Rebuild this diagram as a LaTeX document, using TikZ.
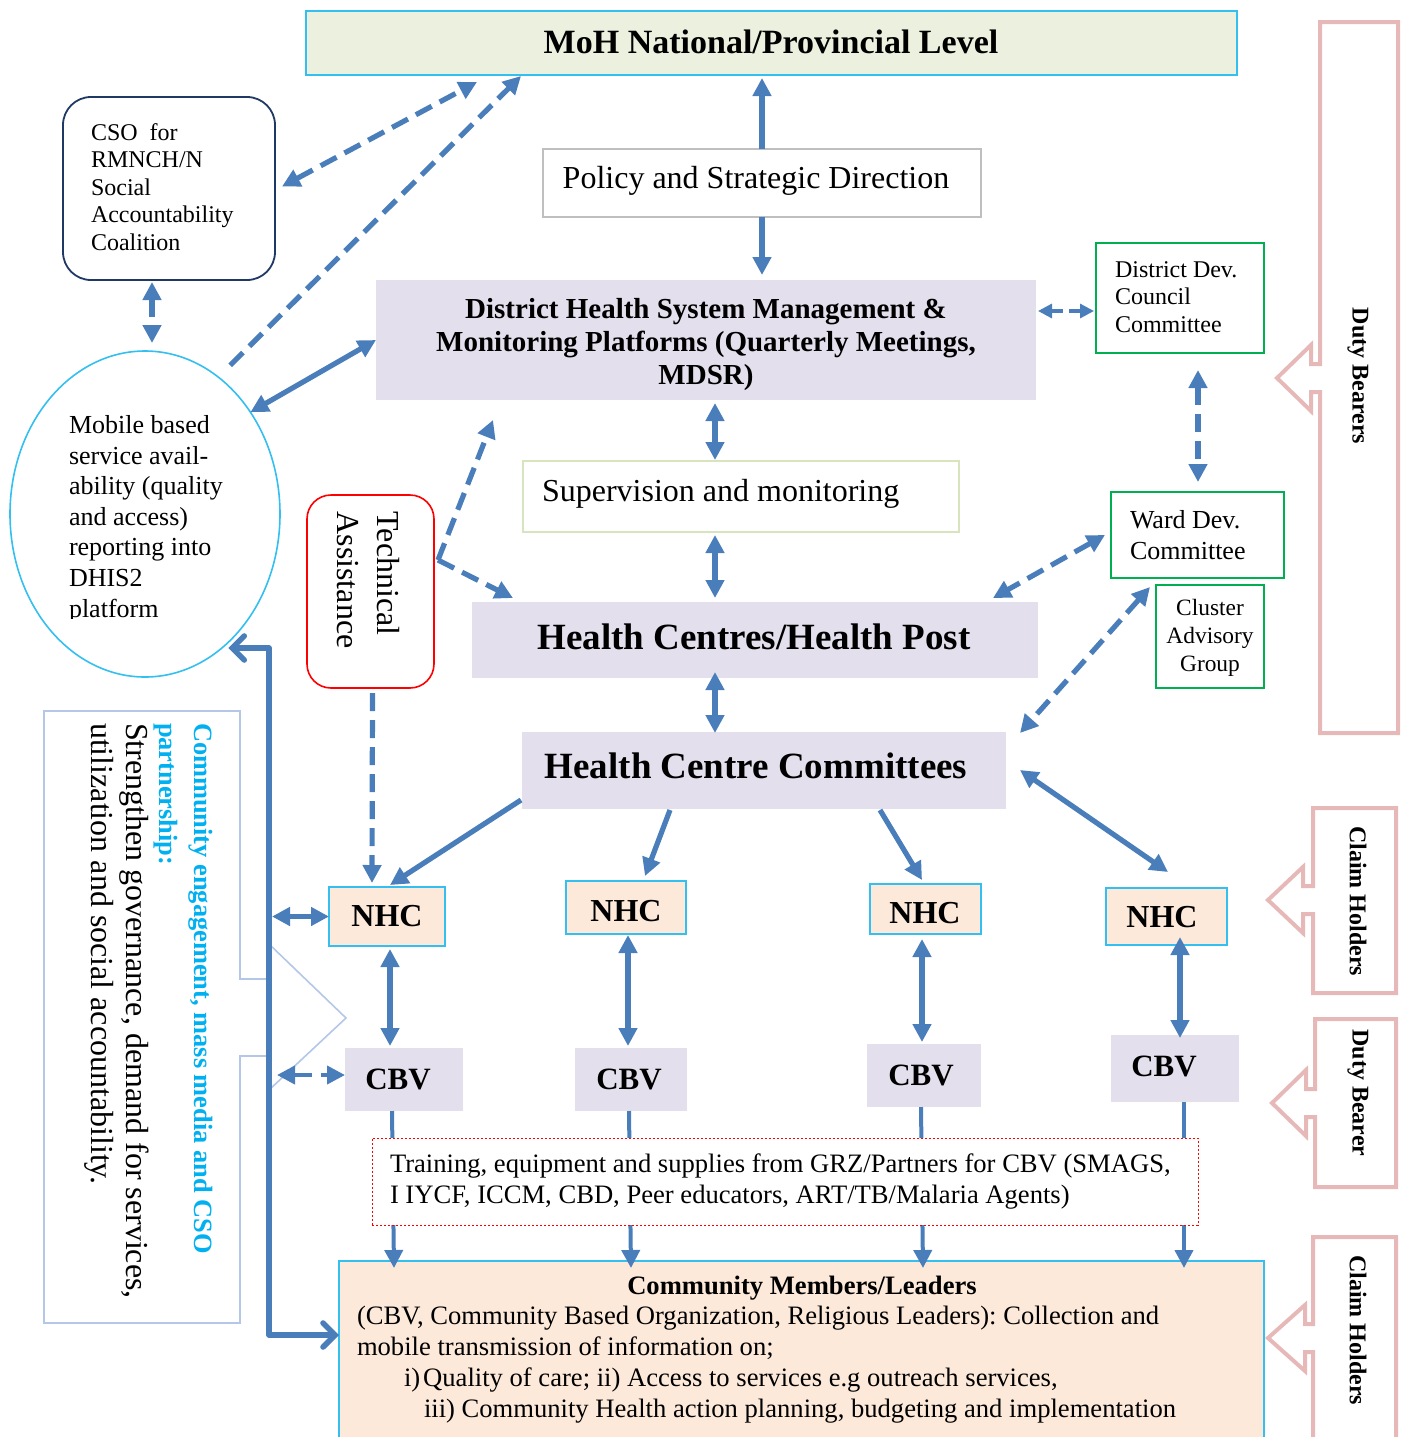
\documentclass[tikz,border=0pt]{standalone}
\usepackage{fontspec}
\setmainfont{Liberation Serif}
\usetikzlibrary{arrows.meta,fit,calc,shapes.geometric}
\definecolor{ablue}{HTML}{4A7EBB}
\definecolor{mohfill}{HTML}{EBF1DE}
\definecolor{cyanb}{HTML}{33BFF0}
\definecolor{lav}{HTML}{E4DFEC}
\definecolor{peach}{HTML}{FCE9DA}
\definecolor{gborder}{HTML}{00B050}
\definecolor{pinkc}{HTML}{E6B9B8}
\definecolor{callb}{HTML}{B4C7E7}
\definecolor{navyb}{HTML}{1F3864}
\definecolor{ceng}{HTML}{00B0F0}
\definecolor{supb}{HTML}{D7E4BD}
\definecolor{polb}{HTML}{BFBFBF}
\newcommand\fsz[2]{\fontsize{#1}{#2}\selectfont}
\frenchspacing
\begin{document}
\frenchspacing
\begin{tikzpicture}[x=0.5pt,y=-0.5pt,
  every node/.style={inner sep=0pt,outer sep=0pt},
  bx/.style={inner sep=0pt,line width=0.8pt},
  lavbox/.style={bx,fill=lav},
  nhcbox/.style={bx,fill=peach,draw=cyanb},
  nhctxt/.style={font=\fsz{16}{18}\bfseries},
  cbvtxt/.style={font=\fsz{15.5}{18}\bfseries},
  grbox/.style={bx,draw=gborder},
  ln/.style={draw=ablue,line width=2.6pt},
  dln/.style={ln,dash pattern=on 9pt off 4.5pt},
  tip/.style={-{Triangle[length=9pt,width=9pt]}},
  tips/.style={{Triangle[length=9pt,width=9pt]}-{Triangle[length=9pt,width=9pt]}},
  stips/.style={{Triangle[length=7pt,width=7pt]}-{Triangle[length=7pt,width=7pt]}},
  side/.style={draw=pinkc,line width=2pt,line join=miter},
  sidetxt/.style={rotate=-90,font=\fsz{12}{14}\bfseries},
  rottxt/.style={rotate=-90,anchor=north west,align=left}
]
\useasboundingbox (0,0) rectangle (1403,1437);
\clip (0,0) rectangle (1403,1437);

% left callout box
\draw[draw=callb,line width=0.8pt] (44,711) -- (240,711) -- (240,979) -- (269,979) -- (269,944) -- (346,1018) -- (269,1090) -- (269,1056) -- (240,1056) -- (240,1323) -- (44,1323) -- cycle;
\node[rottxt,font=\fsz{13.2}{17.5}\bfseries,text=ceng] (cengtxt) at (213,723) {Community engagement, mass media and CSO\\partnership:};
\node[rottxt,font=\fsz{16}{17.5}] (strgtxt) at (149,723) {Strengthen governance, demand for services,\\utilization and social accountability.};

% right side callouts
\draw[side] (1320,22) -- (1398,22) -- (1398,733) -- (1320,733) -- (1320,392) -- (1311,392) -- (1311,411) -- (1277,378) -- (1311,345) -- (1311,364) -- (1320,364) -- cycle;
\draw[side] (1313,808) -- (1396,808) -- (1396,993) -- (1313,993) -- (1313,914) -- (1303,914) -- (1303,933) -- (1268,900) -- (1303,867) -- (1303,886) -- (1313,886) -- cycle;
\draw[side] (1315,1019) -- (1396,1019) -- (1396,1187) -- (1315,1187) -- (1315,1117) -- (1306,1117) -- (1306,1136) -- (1272,1103) -- (1306,1070) -- (1306,1089) -- (1315,1089) -- cycle;
\draw[side] (1313,1237) -- (1396,1237) -- (1396,1460) -- (1313,1460) -- (1313,1352) -- (1305,1352) -- (1305,1371) -- (1268,1338) -- (1305,1305) -- (1305,1324) -- (1313,1324) -- cycle;
\node[sidetxt] (sdb1) at (1358,376) {Duty Bearers};
\node[sidetxt] (sch1) at (1358,901) {Claim Holders};
\node[sidetxt] (sdb2) at (1358,1093) {Duty Bearer};
\node[sidetxt] (sch2) at (1358,1330) {Claim Holders};

% main boxes
\node[bx,fill=mohfill,draw=cyanb,fit={(306,11) (1237,75)}] (moh) {};
\node[font=\fsz{17}{20}\bfseries] (mohtxt) at (771,42) {MoH National/Provincial Level};
\node[bx,fill=white,draw=polb,fit={(543,149) (981,217)}] (policy) {};
\node[font=\fsz{16}{19}] (poltxt) at (756,181) {Policy and Strategic Direction};
\node[lavbox,fit={(376,280) (1036,400)}] (district) {};
\node[align=center,font=\fsz{14.5}{16.5}\bfseries] (disttxt) at (706,345) {District Health System Management \&\\Monitoring Platforms (Quarterly Meetings,\\MDSR)};
\node[bx,fill=white,draw=supb,fit={(523,461) (959,532)}] (sup) {};
\node[anchor=west,font=\fsz{16}{19}] (suptxt) at (542,494) {Supervision and monitoring};
\node[lavbox,fit={(472,602) (1038,678)}] (hc) {};
\node[font=\fsz{18.5}{21}\bfseries] (hctxt) at (754,637) {Health Centres/Health Post};
\node[lavbox,fit={(522,732) (1006,809)}] (hcc) {};
\node[font=\fsz{18.5}{21}\bfseries] (hcctxt) at (756,766) {Health Centre Committees};

\node[bx,draw=navyb,line width=0.9pt,rounded corners=14pt,fit={(63,97) (275,280)}] (cso) {};
\node[anchor=west,align=left,font=\fsz{12}{13.8}] (csotxt) at (91,187) {CSO\ \ for\\RMNCH/N\\Social\\Accountability\\Coalition};

\node[draw=cyanb,line width=0.8pt,ellipse,minimum width=135pt,minimum height=163pt] (ell) at (145,514) {};
\begin{scope}
\clip (0,330) rectangle (300,618);
\node[anchor=west,align=left,font=\fsz{13}{15.3}] (elltxt) at (69,519) {Mobile based\\service avail-\\ability (quality\\and access)\\reporting into\\DHIS2\\platform};
\end{scope}

\node[bx,draw=red,rounded corners=12pt,fit={(307,495) (434,688)}] (ta) {};
\node[rotate=-90,align=left,font=\fsz{16}{20}] (tatxt) at (368,580) {Technical\\Assistance};

\node[grbox,fit={(1096,243) (1264,353)}] (ddcc) {};
\node[anchor=west,align=left,font=\fsz{12}{13.8}] (ddcctxt) at (1115,297) {District Dev.\\Council\\Committee};
\node[grbox,fit={(1111,492) (1284,578)}] (ward) {};
\node[anchor=west,align=left,font=\fsz{13}{15.5}] (wardtxt) at (1130,535) {Ward Dev.\\Committee};
\node[grbox,fit={(1156,585) (1264,688)}] (cag) {};
\node[align=center,font=\fsz{11.7}{14}] (cagtxt) at (1210,638) {Cluster\\Advisory\\Group};

\node[nhcbox,fit={(329,887) (445,946)}] (nhc1) {};
\node[nhcbox,fit={(566,881) (686,934)}] (nhc2) {};
\node[nhcbox,fit={(870,884) (981,934)}] (nhc3) {};
\node[nhcbox,fit={(1106,888) (1227,945)}] (nhc4) {};
\node[nhctxt] (nhc1t) at (387,916) {NHC};
\node[nhctxt] (nhc2t) at (626,911) {NHC};
\node[nhctxt] (nhc3t) at (925,913) {NHC};
\node[nhctxt] (nhc4t) at (1162,917) {NHC};
\node[lavbox,fit={(345,1048) (463,1111)}] (cbv1) {};
\node[lavbox,fit={(575,1048) (687,1111)}] (cbv2) {};
\node[lavbox,fit={(867,1044) (981,1107)}] (cbv3) {};
\node[lavbox,fit={(1111,1035) (1239,1102)}] (cbv4) {};
\node[cbvtxt] (cbv1t) at (398,1079) {CBV};
\node[cbvtxt] (cbv2t) at (629,1079) {CBV};
\node[cbvtxt] (cbv3t) at (921,1075) {CBV};
\node[cbvtxt] (cbv4t) at (1164,1066) {CBV};

\node[bx,fill=peach,draw=cyanb,fit={(339,1261) (1264,1460)}] (comm) {};
\node[font=\fsz{13.3}{15.5}\bfseries] (commtitle) at (802,1288) {Community Members/Leaders};
\node[anchor=west,align=left,font=\fsz{13.3}{15.5}] (commtxt) at (357,1365) {(CBV, Community Based Organization, Religious Leaders): Collection and\\mobile transmission of information on;\\\hspace*{23.5pt}i)\hspace{1.5pt}Quality of care; ii) Access to services e.g outreach services,\\\hspace*{33.5pt}iii) Community Health action planning, budgeting and implementation};

% connectors: top
\draw[ln,tip,shorten >=1.5pt] (policy.north) -- (policy.north |- moh.south);
\draw[ln,tip,shorten >=2.5pt] (policy.south) -- (policy.south |- district.north);
\draw[dln,tips] ($(cso.east)+(7,-2)$) -- ($(moh.south west)+(171,7)$);
\draw[dln,tip] ($(ell.60)+(8,-15)$) -- ($(moh.south west)+(215,1)$);
\draw[dln,tips] ($(cso.south)+(-17,2)$) -- ($(ell.north)+(7,-8)$);
\draw[ln,tips] (ell.44) -- (district.west);
% technical assistance
\draw[dln,tip] ($(ta.north east)+(4,65)$) -- ($(district.south west)+(117,20)$);
\draw[dln,tip] ($(ta.north east)+(4,65)$) -- ($(hc.north west)+(41,-4)$);
\draw[dln,tip] ($(ta.south)+(2,5)$) -- ($(nhc1.north west)+(43,-4)$);
% spine
\draw[ln,tips] ($(district.south west)+(339,3)$) -- ($(sup.north west)+(192,-1)$);
\draw[ln,tips] ($(sup.south west)+(192,3)$) -- ($(hc.north west)+(243,-4)$);
\draw[ln,tips] ($(hc.south west)+(243,-6)$) -- ($(hcc.north west)+(193,1)$);
% right side
\draw[ln,stips,line width=1.6pt,dash pattern=on 6pt off 3pt] ($(district.north east)+(2,31)$) -- ($(ddcc.west)+(-2,13)$);
\draw[dln,tips] ($(ddcc.south)+(18,17)$) -- ($(ward.north)+(0.5,-10)$);
\draw[dln,tips] ($(ward.west)+(-6,0)$) -- ($(hc.north east)+(-45,-4)$);
\draw[dln,tips] ($(ward.south west)+(39,9)$) -- ($(hcc.north east)+(14,1)$);
% HCC to NHC
\draw[ln,tip] ($(hcc.south west)+(-1,-9)$) -- ($(nhc1.north west)+(61,-2)$);
\draw[ln,tip] ($(hcc.south west)+(148,1)$) -- ($(nhc2.north west)+(79,-5)$);
\draw[ln,tip] ($(hcc.south west)+(358,1)$) -- ($(nhc3.north west)+(52,-4)$);
\draw[ln,tips] ($(hcc.north east)+(14,38)$) -- ($(nhc4.north west)+(62,-16)$);
% NHC - CBV
\draw[ln,tips] ($(nhc1.south)+(3,3)$) -- ($(cbv1.north)+(-14,-2)$);
\draw[ln,tips] ($(nhc2.south)+(2,1)$) -- ($(cbv2.north)+(-3,-2)$);
\draw[ln,tips] ($(nhc3.south)+(-3.5,5)$) -- ($(cbv3.north)+(-2,-2)$);
\draw[ln,tips] ($(nhc4.south)+(13.5,-8)$) -- ($(cbv4.north)+(5,3)$);
% CBV - community
\draw[ln,tip,line width=2pt] ($(cbv1.south)+(-12,0)$) -- ($(comm.north west)+(55,7)$);
\draw[ln,tip,line width=2pt] ($(cbv2.south)+(-2,0)$) -- ($(comm.north west)+(292,7)$);
\draw[ln,tip,line width=2pt] ($(cbv3.south)+(-3,0)$) -- ($(comm.north west)+(584,7)$);
\draw[ln,tip,line width=2pt] ($(cbv4.south)+(9,0)$) -- ($(comm.north west)+(845,7)$);
% feedback loop
\coordinate (fbt) at (269,648);
\coordinate (fbb) at (269,1335);
\draw[ln,line width=2.8pt,line join=round,{Straight Barb[length=6pt,width=12pt,line cap=round]}-{Straight Barb[length=6pt,width=12pt,line cap=round]}] (fbt -| ell.-57) -- (fbt) -- (fbb) -- (fbb -| comm.west);
\draw[ln,tips,shorten <=1.5pt] (nhc1.west -| fbt) -- (nhc1.west);
\draw[dln,tips,line width=2pt,shorten <=4pt] ($(cbv1.west -| fbt)+(0,-4.5)$) -- ($(cbv1.west)+(0,-4.5)$);

% training box (over the CBV lines)
\node[bx,fill=white,draw=red,line width=0.5pt,dash pattern=on 1pt off 1pt,fit={(372,1138) (1198,1225)}] (train) {};
\node[anchor=west,align=left,font=\fsz{13.3}{15.5}] (traintxt) at (390,1181) {Training, equipment and supplies from GRZ/Partners for CBV (SMAGS,\\I IYCF, ICCM, CBD, Peer educators, ART/TB/Malaria Agents)};
\end{tikzpicture}
\end{document}
